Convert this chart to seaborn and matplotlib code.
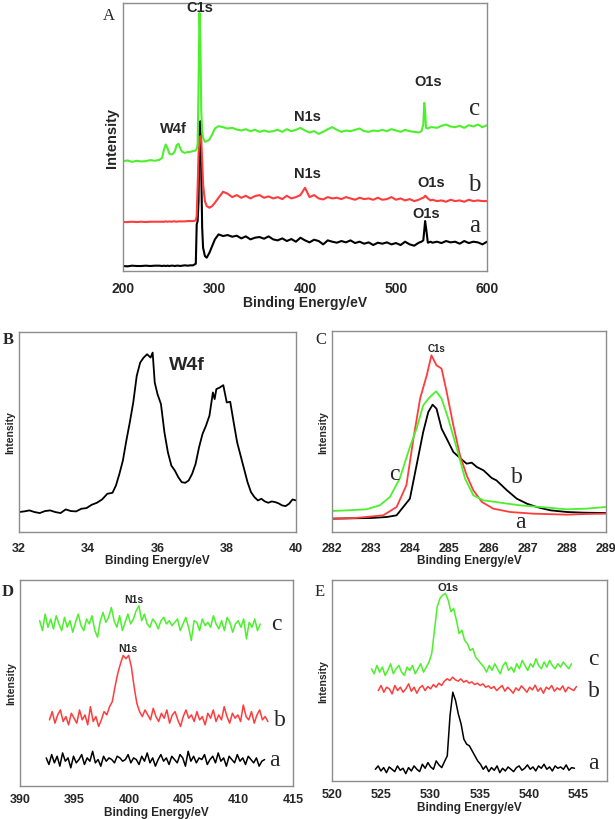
import numpy as np
import pandas as pd
import matplotlib
matplotlib.use('Agg')
import matplotlib.pyplot as plt
from matplotlib.ticker import MultipleLocator
import seaborn as sns

GREEN = '#4cf02c'
RED = '#ff3c3c'
BLACK = '#000000'
FRAME = '#8c8c8c'

# ── Panel A: survey spectra (shared energy grid) ─────────────
A_ENERGY = [200, 205, 210, 215, 220, 225, 230, 235, 240,
            243,
            245, 247, 249, 251, 253, 255, 257, 259, 261, 263, 265,
            268, 271, 274, 277,
            280, 281, 282, 283, 284, 285, 286, 287, 288,
            290, 292, 295, 298, 301,
            305, 310, 315, 320, 325, 330, 335, 340, 345, 350, 355, 360, 365, 370, 375,
            380, 385, 390, 395, 400, 405, 410, 415, 420, 425, 430, 435, 440, 445, 450,
            455, 460, 465, 470, 475, 480, 485, 490, 495, 500, 505, 510, 515, 520, 525,
            528, 530, 531, 532, 533, 535, 538,
            540, 545, 550, 555, 560, 565, 570, 575, 580, 585, 590, 595, 600]
A_CURVE_A = [15, 14, 16, 15, 15, 16, 15, 16, 16,
             15,
             16, 15, 16, 15, 16, 16, 15, 16, 16, 15, 16,
             17, 16, 17, 17,
             22, 140, 150, 210, 430, 450, 300, 130, 70,
             45, 40, 55, 75, 95,
             110, 105, 108, 103, 106, 98, 104, 95, 100, 102, 97, 104, 95, 92, 98,
             90, 96, 88, 100, 92, 86, 94, 90, 80, 92, 88, 85, 90, 86, 92,
             84, 88, 82, 86, 78, 85, 82, 86, 80, 84, 78, 88, 80, 76, 85,
             88, 92, 120, 150, 130, 85, 88,
             85, 88, 84, 90, 86, 88, 82, 90, 84, 88, 86, 80, 88]
A_CURVE_B = [147, 147, 148, 147, 148, 147, 148, 148, 148,
             148,
             148, 149, 148, 149, 148, 149, 149, 148, 149, 149, 149,
             149, 150, 150, 150,
             152, 165, 250, 350, 400, 405, 395, 330, 260,
             210, 195, 190, 195, 205,
             220, 238, 232, 222, 228, 220, 226, 218, 225, 228, 220, 224, 218, 222, 216,
             226, 218, 222, 228, 250, 222, 228, 218, 215, 222, 218, 220, 216, 222, 218,
             214, 220, 216, 218, 214, 220, 214, 216, 222, 214, 218, 212, 216, 210, 214,
             218, 220, 222, 226, 224, 218, 212,
             214, 210, 212, 208, 214, 210, 212, 208, 214, 210, 212, 210, 210]
A_CURVE_C = [330, 332, 328, 331, 329, 330, 333, 331, 334,
             340,
             365, 380, 368, 352, 350, 352, 360, 378, 382, 368, 358,
             355, 357, 358, 360,
             362, 368, 380, 550, 775, 700, 480, 420, 400,
             388, 390, 395, 410, 428,
             435, 432, 428, 430, 425, 422, 426, 420, 424, 418, 422, 418, 420, 424, 418,
             426, 420, 424, 430, 422, 416, 420, 412, 418, 426, 432, 424, 418, 422, 420,
             424, 428, 420, 418, 422, 420, 424, 420, 426, 422, 418, 424, 420, 418, 416,
             420, 440, 505, 480, 430, 428, 432,
             432, 430, 436, 440, 434, 432, 436, 430, 438, 434, 440, 432, 438]

# ── Panel B: W4f ─────────────────────────────────────────────
B_ENERGY = [32.0, 32.15, 32.3, 32.45, 32.6, 32.75, 32.9, 33.05, 33.2, 33.35,
            33.5, 33.65, 33.8, 33.95, 34.1, 34.25, 34.4, 34.55, 34.7,
            34.8, 34.9, 35.0, 35.1, 35.2, 35.3, 35.4, 35.5, 35.6, 35.7, 35.8, 35.86, 35.92,
            36.0, 36.1, 36.2, 36.3, 36.4, 36.5, 36.6, 36.7, 36.8, 36.9, 37.0, 37.1,
            37.2, 37.3, 37.4, 37.5, 37.6, 37.65,
            37.7, 37.8, 37.9, 38.0, 38.1, 38.2, 38.3, 38.4, 38.5, 38.6, 38.7, 38.8,
            38.9, 39.0, 39.1, 39.2, 39.3, 39.4, 39.5, 39.6, 39.7, 39.8, 39.9, 40.0]
B_INTENSITY = [60, 62, 65, 60, 57, 63, 65, 60, 57, 68,
               63, 62, 70, 72, 82, 88, 98, 115, 118,
               140, 175, 215, 275, 330, 390, 470, 510, 525, 535, 525, 540, 450,
               415, 385, 300, 240, 200, 185, 165, 150, 148, 155, 175, 205,
               255, 295, 320, 350, 420, 400,
               430, 435, 442, 390, 392, 330, 270, 230, 190, 150, 120, 105,
               95, 100, 92, 88, 92, 90, 86, 80, 78, 85, 98, 95]

# ── Panel C: C1s ─────────────────────────────────────────────
C_A_ENERGY = [282.0, 282.5, 283.0, 283.4, 283.65, 283.99, 284.16, 284.33, 284.46, 284.57,
              284.67, 284.8, 284.93, 285.1, 285.27, 285.44, 285.57, 285.7, 285.87, 286.08,
              286.2, 286.47, 286.72, 286.98, 287.23, 287.58, 288.0, 288.43, 289.0]
C_A_INTENSITY = [40, 41, 42, 45, 50, 100, 200, 300, 360, 382,
                 370, 310, 280, 240, 222, 205, 208, 195, 185, 162,
                 155, 125, 100, 85, 75, 65, 60, 58, 57]
C_B_ENERGY = [282.0, 282.6, 283.31, 283.65, 283.9, 284.08, 284.25, 284.42, 284.54, 284.67,
              284.8, 284.93, 285.1, 285.27, 285.44, 285.61, 285.83, 286.12, 286.55, 287.14,
              288.0, 288.5, 289.0]
C_B_INTENSITY = [40, 42, 50, 75, 140, 280, 400, 470, 530, 500,
                 490, 420, 320, 230, 170, 125, 90, 70, 60, 55,
                 52, 54, 55]
C_C_ENERGY = [282.0, 282.4, 282.88, 283.22, 283.48, 283.73, 283.99, 284.16, 284.33, 284.5,
              284.66, 284.8, 284.97, 285.19, 285.4, 285.61, 285.87, 286.3, 286.8, 287.32,
              288.0, 288.5, 289.0]
C_C_INTENSITY = [63, 65, 68, 80, 105, 160, 255, 310, 380, 405,
                 422, 400, 340, 250, 160, 110, 95, 88, 80, 75,
                 68, 70, 75]

# ── Panel D: N1s (evenly spaced scans, start/end energy) ─────
D_A_RANGE = (392.4, 412.4)
D_A_INTENSITY = [85, 65, 95, 70, 90, 60, 100, 75, 85, 55, 90, 70, 80, 95, 65, 85, 75, 105, 70, 80,
                 60, 90, 75, 85, 80, 70, 90, 85, 75, 80, 95, 70, 85, 80, 65, 90, 75, 100, 70, 85,
                 60, 80, 95, 75, 85, 65, 90, 80, 70, 95, 85, 60, 105, 75, 90, 70, 85, 80, 95, 65,
                 80, 90, 70, 100, 75, 85, 60, 90, 80, 70, 95, 75, 85, 65, 90, 80, 70, 85, 60, 75, 80]
D_B_RANGE = (392.7, 412.7)
D_B_INTENSITY = [200, 225, 190, 215, 230, 195, 210, 185, 220, 205, 190, 230, 200, 215, 185, 240,
                 195, 210, 180, 200, 225, 215, 240, 255, 300, 340, 370, 395, 385, 395, 360, 300,
                 250, 225, 210, 230, 215, 200, 235, 210, 195, 220, 205, 230, 190, 215, 225, 200,
                 180, 210, 230, 205, 215, 195, 225, 200, 210, 185, 220, 205, 230, 195, 215, 200,
                 240, 210, 190, 220, 205, 215, 195, 245, 210, 200, 225, 190, 215, 230, 200, 210, 195]
D_C_RANGE = (391.8, 412.0)
D_C_INTENSITY = [500, 470, 520, 480, 505, 475, 515, 490, 470, 510, 480, 500, 465, 495, 520, 485,
                 470, 505, 490, 515, 470, 450, 500, 525, 495, 510, 540, 500, 480, 515, 470, 495,
                 520, 490, 505, 530, 545, 500, 520, 490, 480, 505, 495, 475, 500, 510, 490, 500,
                 485, 495, 505, 470, 490, 510, 480, 440, 500, 495, 470, 505, 485, 495, 480, 515,
                 490, 475, 500, 470, 510, 495, 465, 490, 500, 480, 505, 445, 495, 480, 505, 470, 490]

# ── Panel E: O1s ─────────────────────────────────────────────
E_A_RANGE = (524.4, 544.6)
E_A_INTENSITY = [35, 45, 30, 40, 25, 42, 35, 28, 45, 32, 38, 22, 40, 30, 45, 35, 28, 50, 38, 55,
                 42, 35, 60, 48, 40, 58, 75, 195, 265, 240, 200, 170, 125, 110, 105, 90, 75, 60,
                 50, 35, 45, 28, 40, 32, 45, 25, 38, 30, 42, 35, 28, 40, 45, 32, 38, 48, 35, 42,
                 30, 45, 38, 50, 35, 42, 30, 45, 38, 42, 35, 48, 32, 40, 38]
E_B_RANGE = (524.7, 544.8)
E_B_INTENSITY = [270, 285, 265, 280, 275, 260, 285, 270, 280, 265, 275, 290, 268, 280, 262, 278,
                 285, 270, 282, 275, 288, 280, 292, 285, 298, 305, 300, 310, 302, 298, 305, 295,
                 300, 292, 296, 288, 292, 285, 290, 280, 284, 276, 282, 270, 278, 285, 268, 280,
                 272, 262, 278, 270, 284, 275, 265, 280, 272, 286, 268, 278, 262, 280, 274, 285,
                 268, 278, 272, 284, 266, 280, 275, 270, 282]
E_C_RANGE = (524.0, 544.3)
E_C_INTENSITY = [335, 320, 345, 325, 340, 315, 330, 350, 320, 335, 345, 325, 315, 340, 330, 345,
                 320, 335, 350, 325, 340, 355,
                 380, 450, 520, 545, 555, 560, 540, 505, 515, 480, 440, 450, 420, 410, 390, 395,
                 370, 360, 350, 340,
                 325, 345, 330, 350, 335, 320, 345, 355, 330, 340, 325, 350, 335, 360, 345, 330,
                 350, 340, 365, 345, 335, 355, 340, 360, 345, 335, 350, 340, 355, 345, 335, 350]


def spectrum(ax, energy, intensity, color, lw):
    df = pd.DataFrame({'energy': energy, 'intensity': intensity})
    sns.lineplot(data=df, x='energy', y='intensity', color=color, lw=lw,
                 sort=False, estimator=None, ax=ax)


def scan(ax, erange, intensity, color, lw=1.1):
    energy = np.linspace(erange[0], erange[1], len(intensity))
    spectrum(ax, energy, intensity, color, lw)


def style(ax, xlim, ylim, ticks, tick_fs, label_fs, ylabel_fs, minor=None, pad=4):
    ax.set_xlim(*xlim)
    ax.set_ylim(*ylim)
    ax.set_xticks(ticks)
    if minor:
        ax.xaxis.set_minor_locator(MultipleLocator(minor))
    ax.set_yticks([])
    for sp in ax.spines.values():
        sp.set_color(FRAME)
        sp.set_linewidth(1.0)
    ax.tick_params(axis='x', which='both', direction='out', length=3, width=0.8,
                   color=FRAME, pad=pad, labelsize=tick_fs)
    ax.tick_params(axis='x', which='minor', length=2)
    for lab in ax.get_xticklabels():
        lab.set_fontweight('bold')
    ax.set_xlabel('Binding Energy/eV', fontsize=label_fs, fontweight='bold', labelpad=0.5)
    ax.set_ylabel('Intensity', fontsize=ylabel_fs, fontweight='bold', labelpad=3)


def tag(ax, x, y, s, size, serif=False):
    if serif:
        ax.text(x, y, s, fontsize=size, family=['Liberation Serif', 'DejaVu Serif'],
                ha='center', va='center', clip_on=False)
    else:
        ax.text(x, y, s, fontsize=size, fontweight='bold', ha='center', va='center',
                clip_on=False)


def main():
    sns.set_style('white')
    plt.rcParams['font.family'] = ['Liberation Sans', 'DejaVu Sans']

    fig = plt.figure(figsize=(6.15, 8.2), dpi=100)
    W, H = 615.0, 820.0

    def rect(left, top, right, bottom):
        return [left / W, 1 - bottom / H, (right - left) / W, (bottom - top) / H]

    # ── A ──
    ax = fig.add_axes(rect(123, 4, 487, 272))
    spectrum(ax, A_ENERGY, A_CURVE_A, BLACK, 1.5)
    spectrum(ax, A_ENERGY, A_CURVE_B, RED, 1.5)
    spectrum(ax, A_ENERGY, A_CURVE_C, GREEN, 1.5)
    style(ax, (200, 600), (0, 805), [200, 300, 400, 500, 600], 10, 10, 10.5)
    tag(ax, 284, 792, 'C1s', 10.5)
    tag(ax, 255, 430, 'W4f', 10.5)
    tag(ax, 403, 465, 'N1s', 10.5)
    tag(ax, 535, 570, 'O1s', 10.5)
    tag(ax, 403, 295, 'N1s', 10.5)
    tag(ax, 539, 267, 'O1s', 10.5)
    tag(ax, 533, 173, 'O1s', 10.5)
    tag(ax, 586, 490, 'c', 18, serif=True)
    tag(ax, 586, 260, 'b', 18, serif=True)
    tag(ax, 586, 137, 'a', 18, serif=True)

    # ── B ──
    ax = fig.add_axes(rect(19, 333, 296, 533))
    spectrum(ax, B_ENERGY, B_INTENSITY, BLACK, 1.3)
    style(ax, (32, 40), (0, 602), [32, 34, 36, 38, 40], 9, 8.5, 7.5)
    tag(ax, 36.84, 505, 'W4f', 14)

    # ── C ──
    ax = fig.add_axes(rect(332, 332, 606, 533))
    spectrum(ax, C_A_ENERGY, C_A_INTENSITY, BLACK, 1.3)
    spectrum(ax, C_B_ENERGY, C_B_INTENSITY, RED, 1.3)
    spectrum(ax, C_C_ENERGY, C_C_INTENSITY, GREEN, 1.3)
    style(ax, (282, 289), (0, 603), list(range(282, 290)), 9, 8.5, 7.5)
    tag(ax, 284.67, 552, 'C1s', 7)
    tag(ax, 283.6, 175, 'c', 17, serif=True)
    tag(ax, 286.72, 165, 'b', 17, serif=True)
    tag(ax, 286.8, 32, 'a', 17, serif=True)

    # ── D ──
    ax = fig.add_axes(rect(20, 581, 293, 787))
    scan(ax, D_A_RANGE, D_A_INTENSITY, BLACK)
    scan(ax, D_B_RANGE, D_B_INTENSITY, RED)
    scan(ax, D_C_RANGE, D_C_INTENSITY, GREEN)
    style(ax, (390, 415), (0, 623), [390, 395, 400, 405, 410, 415], 9, 8.5, 7.5,
          minor=2.5, pad=2)
    tag(ax, 400.4, 567, 'N1s', 7.5)
    tag(ax, 399.9, 418, 'N1s', 7.5)
    tag(ax, 413.5, 490, 'c', 17, serif=True)
    tag(ax, 413.8, 200, 'b', 17, serif=True)
    tag(ax, 413.3, 80, 'a', 17, serif=True)

    # ── E ──
    ax = fig.add_axes(rect(332, 581, 607, 782))
    scan(ax, E_A_RANGE, E_A_INTENSITY, BLACK)
    scan(ax, E_B_RANGE, E_B_INTENSITY, RED)
    scan(ax, E_C_RANGE, E_C_INTENSITY, GREEN)
    style(ax, (520, 547.9), (0, 600), [520, 525, 530, 535, 540, 545], 9, 8.5, 7.5,
          minor=2.5, pad=2)
    tag(ax, 531.75, 580, 'O1s', 8)
    tag(ax, 546.5, 365, 'c', 17, serif=True)
    tag(ax, 546.6, 270, 'b', 17, serif=True)
    tag(ax, 546.5, 55, 'a', 17, serif=True)

    # panel letters
    serif = ['Liberation Serif', 'DejaVu Serif']
    for x, y, s, w in [(103, 8, 'A', 'normal'), (3, 332, 'B', 'bold'), (315, 332, 'C', 'normal'),
                       (2, 584, 'D', 'bold'), (315, 584, 'E', 'normal')]:
        fig.text(x / W, 1 - y / H, s, fontsize=12, family=serif, fontweight=w,
                 ha='left', va='top')

    fig.savefig('out.png', dpi=100)
    plt.close(fig)


if __name__ == '__main__':
    main()
